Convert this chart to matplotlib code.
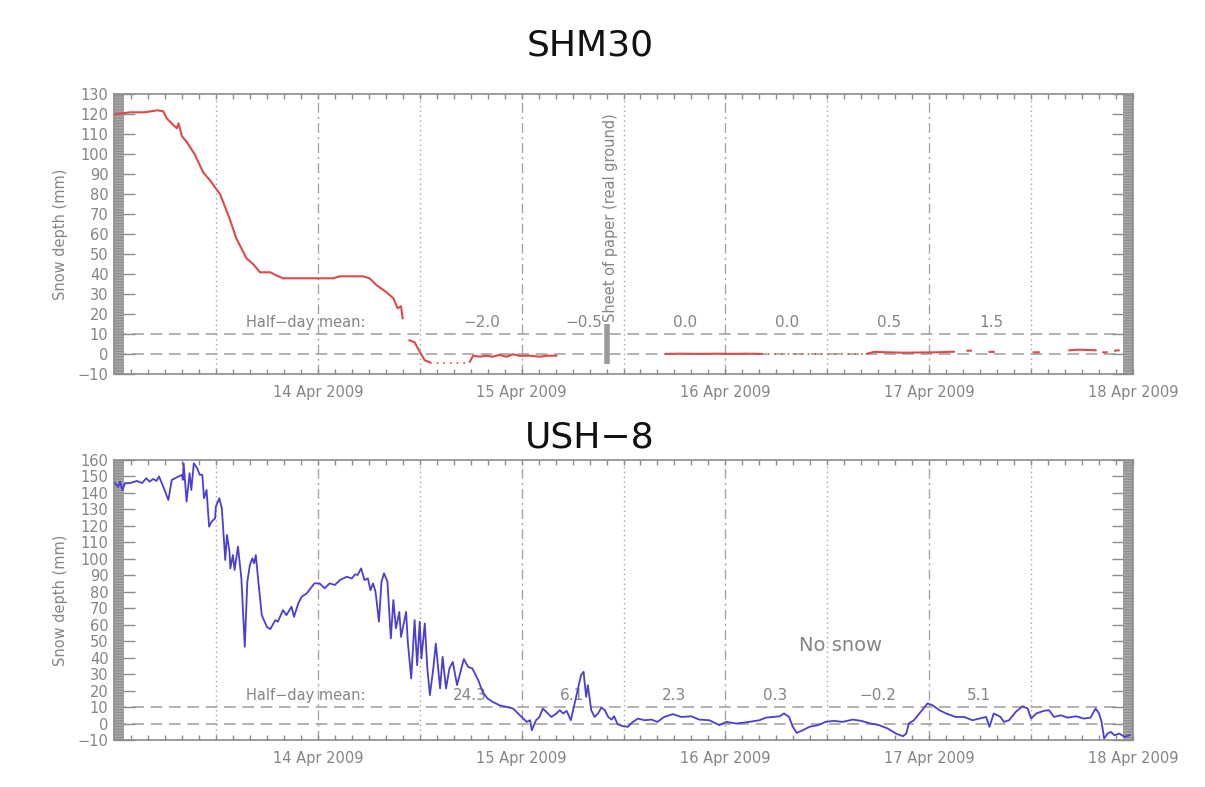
import matplotlib
matplotlib.use("Agg")
import numpy as np
import matplotlib.pyplot as plt
import matplotlib.dates as mdates
from matplotlib.patches import Rectangle
from matplotlib.ticker import FixedLocator, MultipleLocator

plt.rcParams["font.family"] = ["DejaVu Sans"]
plt.rcParams["axes.unicode_minus"] = True

START = np.datetime64("2009-04-13T00:00")

# ---------------- SHM30 (hours since 13 Apr 00:00, snow depth mm) ----------------
shm_hours = [0.1, 1.9, 3.6, 5.1, 5.8, 6.2, 7.0, 7.4, 7.6, 8.0, 8.6, 9.5, 10.5, 11.3,
             12.5, 13.6, 14.4, 15.6, 16.4, 17.2, 18.4, 19.1, 19.9, 21.9, 25.8, 26.6,
             29.3, 30.1, 30.9, 32.1, 32.9, 33.4, 33.8, 34.0,
             34.4,
             34.8, 35.4, 36.0, 36.6, 37.2,
             39.0,
             41.9, 42.3, 43.1, 43.8, 44.6, 45.4, 46.2, 47.0, 47.8, 48.9, 50.1, 51.1, 52.1,
             55.0,
             65.0, 67.0, 69.0, 71.0, 73.0, 74.5, 76.2,
             80.0,
             88.7, 89.5, 91.0, 93.0, 95.0, 97.0, 98.9,
             99.5,
             100.5, 100.9,
             101.5,
             103.1, 103.6,
             104.0,
             108.3, 108.9,
             110.0,
             112.5, 113.5, 114.5, 115.6,
             116.2,
             116.5, 116.9,
             117.5,
             117.9, 118.3]
shm_depth = [120, 121, 121, 122, 121.5, 118, 114.6, 113, 115.5, 109, 106, 100, 91, 87,
             80, 68, 58, 48, 45, 41, 41, 39.5, 38, 38, 38, 39,
             39, 38, 34.6, 31, 28, 23, 24, 18,
             np.nan,
             7, 6, 1.3, -3, -4,
             np.nan,
             -3.7, -0.7, -1.2, -0.7, -1.2, -0.3, -1.2, 0.0, -0.8, -0.7, -1.2, -0.7, -0.7,
             np.nan,
             0.2, 0.3, 0.2, 0.3, 0.2, 0.3, 0.2,
             np.nan,
             0.3, 1.2, 1.0, 0.8, 0.9, 1.0, 1.3,
             np.nan,
             1.8, 1.8,
             np.nan,
             1.2, 1.2,
             np.nan,
             1.0, 1.0,
             np.nan,
             2.0, 2.3, 2.2, 2.0,
             np.nan,
             1.0, 1.0,
             np.nan,
             1.8, 2.0]
# sparse readings drawn dotted
shm_sparse_hours = [37.2, 41.9, np.nan, 76.2, 88.7]
shm_sparse_depth = [-4.3, -4.3, np.nan, 0.3, 0.3]
shm_means = ["\u22122.0", "\u22120.5", "0.0", "0.0", "0.5", "1.5"]

# ---------------- USH-8 ----------------
ush_hours = [0.1, 0.5, 0.7, 1.0, 1.3, 1.9, 2.7, 3.3, 3.8, 4.2, 4.6, 5.0, 5.3, 5.8, 6.4,
             6.8, 7.6, 8.0, 8.1, 8.2, 8.55, 8.9, 9.1, 9.4, 9.8, 10.1, 10.4, 10.6, 10.9, 11.2,
             11.5, 11.9, 12.0, 12.4, 12.7, 13.1, 13.3, 13.6, 13.7, 14.0, 14.2, 14.6, 15.0,
             15.4, 15.7, 16.0, 16.3, 16.5, 16.7, 17.0, 17.4, 18.0, 18.4, 19.0, 19.3, 19.9,
             20.3, 20.9, 21.2, 21.7, 22.1, 22.7, 23.3, 23.6, 24.2,
             24.8, 25.4, 26.0, 26.6, 27.4, 28.0, 28.4, 28.7, 29.1, 29.5, 29.9, 30.2, 30.5,
             30.8, 31.2, 31.5, 31.8, 32.2, 32.6, 32.9, 33.2, 33.6, 33.8, 34.4, 34.6, 35.0,
             35.4, 35.7, 36.0, 36.2, 36.6, 36.9, 37.2, 37.6, 37.9, 38.4, 38.7, 39.1, 39.5,
             39.9, 40.4, 40.9, 41.2, 41.7, 42.2, 42.9, 43.4, 44.0, 44.6, 45.4, 46.2, 47.0,
             47.8, 48.6, 49.0, 49.2,
             49.7, 50.1, 50.5, 50.9, 51.5, 52.1, 52.5, 52.9, 53.3, 53.8, 54.2, 54.6, 55.0,
             55.3, 55.6, 55.8, 56.2, 56.6, 57.0, 57.4, 57.8, 58.2, 58.6, 58.9, 59.3, 59.9,
             60.5, 61.1, 61.7, 62.5, 63.3, 64.0, 64.8, 65.8, 66.8, 68.0, 68.9, 70.1, 71.3,
             72.1, 73.3,
             74.8, 76.0, 76.8, 77.6, 78.4, 78.9, 79.5, 79.9, 80.4, 81.1, 81.9, 82.9, 83.8,
             84.8, 85.8, 87.0, 88.0, 89.1, 90.1, 91.1, 92.1, 92.9, 93.3, 93.6, 94.2, 95.0,
             95.8, 96.4, 97.2, 98.0,
             99.1, 100.1, 101.1, 101.9, 102.7, 103.1, 103.6, 104.4, 104.8, 105.4, 106.2,
             107.0, 107.6, 108.0, 108.6, 109.5, 110.1, 110.7, 111.5, 112.3, 113.3, 114.2,
             115.0, 115.6, 116.0, 116.3, 116.6, 117.0, 117.4, 117.8, 118.4, 119.0, 119.6]
ush_depth = [146, 143.8, 146.9, 141.8, 145.9, 146, 147.3, 146, 148.9, 146.9, 148.5, 147.3,
             150, 143.8, 135.7, 147.9, 150, 151, 147.9, 158, 134.7, 152, 141.8, 158, 155,
             151, 151, 136.8, 141.8, 119.5, 122.6, 124.6, 131.7, 136.8, 130.7, 99.3, 114.5,
             104.3, 94.2, 102.3, 93.2, 107.4, 88.1, 46.6, 86.1, 96.2, 100.3, 97.3, 102.3,
             86.1, 65.8, 58.7, 57.3, 62.8, 61.8, 68.9, 65.8, 70.9, 64.8, 72.9, 77, 79, 83,
             85.1, 85.1,
             82.1, 85.1, 84.1, 87.1, 89.1, 88.1, 90.6, 90.2, 94.2, 87.1, 88.1, 81, 85.1, 80,
             61.8, 86.1, 91.2, 86.1, 51.7, 75, 57.8, 67.8, 52.6, 67.8, 49.6, 27.4, 62.8,
             35.4, 61.8, 39.5, 60.8, 33.4, 17.2, 33.4, 48.6, 21.3, 40.5, 21.3, 33.4, 37.4,
             23.3, 33.4, 39.1, 34.4, 33.4, 26.3, 19.2, 15.2, 13.1, 11.1, 10.1, 9.1, 5.0, 1.0,
             2.0, -4.1,
             2.0, 4.0, 9.1, 7.1, 4.0, 6.1, 8.1, 6.1, 7.7, 2.0, 11.1, 20.2, 29.4, 31.4, 16.2,
             23.3, 8.1, 4.0, 6.1, 9.7, 8.1, 4.0, 2.4, 4.4, -0.4, -1.6, -2.0, 1.0, 3.0, 2.0,
             2.4, 1.0, 4.0, 5.7, 4.0, 4.4, 2.4, 2.0, -1.0, 1.0, 0.0,
             1.0, 2.0, 3.6, 4.0, 4.4, 6.1, 4.0, -1.6, -5.7, -4.1, -2.0, -1.0, 1.0, 1.6, 1.0,
             2.4, 1.6, 0.0, -1.0, -3.0, -6.1, -7.7, -6.1, 0.0, 2.0, 7.1, 12.2, 11.1, 8.1, 6.1,
             4.0, 4.0, 2.0, 3.0, 4.0, -2.0, 6.1, 4.0, 1.0, 2.0, 7.1, 10.5, 9.1, 3.0, 6.1,
             7.7, 8.1, 4.0, 5.0, 3.6, 4.4, 3.0, 3.6, 9.1, 6.1, 1.0, -9.1, -6.1, -5.1, -7.1,
             -6.1, -8.1, -7.1]
ush_means = ["24.3", "6.1", "2.3", "0.3", "\u22120.2", "5.1"]

HALF_DAY_STARTS = [36, 48, 60, 72, 84, 96]

GRID = "#a4a4a4"
TEXT = "#858585"
SPINE = "#8c8c8c"
X0 = mdates.date2num(START)


def hx(hours):
    return X0 + np.asarray(hours, dtype=float) / 24.0


fig = plt.figure(figsize=(12.05, 7.87), dpi=100)
W, H = 1205.0, 787.0
ax_top = fig.add_axes([114 / W, 1 - 374.3 / H, 1019 / W, 280 / H])
ax_bot = fig.add_axes([114 / W, 1 - 740 / H, 1019 / W, 280 / H])


def style(ax, ymin, ymax):
    ax.set_xlim(X0, X0 + 5)
    ax.set_ylim(ymin, ymax)
    for s in ax.spines.values():
        s.set_color(SPINE)
        s.set_linewidth(1.2)
    ax.xaxis.set_major_locator(FixedLocator([X0 + d for d in range(1, 6)]))
    ax.xaxis.set_major_formatter(mdates.DateFormatter("%d %b %Y"))
    ax.xaxis.set_minor_locator(FixedLocator([X0 + h / 24 for h in range(2, 120, 2)]))
    ax.tick_params(axis="x", which="both", direction="in", top=True, length=3.6,
                   width=1, color=SPINE, labelcolor=TEXT, labelsize=10.5, pad=8)
    ax.yaxis.set_major_locator(MultipleLocator(10))
    ax.tick_params(axis="y", direction="in", right=True, length=15, width=1,
                   color=SPINE, labelcolor=TEXT, labelsize=10.5, pad=4)
    for d in range(5):
        ax.axvline(X0 + d + 0.5, color=GRID, lw=1, dashes=(1, 2.5), zorder=1)
    for d in range(1, 5):
        ax.axvline(X0 + d, color=GRID, lw=1, dashes=(7, 3, 1.5, 3), zorder=1)
    for yv in (10, 0):
        ax.axhline(yv, color=GRID, lw=1.2, dashes=(7, 4), zorder=1)
    bw = 10 / 1019
    for x in (0, 1 - bw):
        ax.add_patch(Rectangle((x, 0), bw, 1, transform=ax.transAxes,
                               facecolor="#a9a9a9", edgecolor="#909090",
                               hatch="------", lw=0, zorder=2))
    ax.set_ylabel("Snow depth (mm)", color=TEXT, fontsize=10.5)
    ax.yaxis.set_label_coords(-0.045, 0.5)
    ax.annotate("Half\u2212day mean:", xy=(hx(22.6), 10), xytext=(0, 3),
                textcoords="offset points", ha="center", va="bottom",
                color=TEXT, fontsize=10.5, zorder=1.5)


style(ax_top, -10, 130)
style(ax_bot, -10, 160)

# SHM30
for lbl, h0 in zip(shm_means, HALF_DAY_STARTS):
    ax_top.annotate(lbl, xy=(hx(h0 + 7.3), 10), xytext=(0, 3), textcoords="offset points",
                    ha="center", va="bottom", color=TEXT, fontsize=11, zorder=1.5)
ax_top.plot(hx(shm_hours), shm_depth, color="#dd4a4a", lw=1.5, zorder=3)
ax_top.plot(hx(shm_sparse_hours), shm_sparse_depth, color="#dd4a4a", lw=1.2,
            dashes=(1, 3), zorder=3)
ax_top.plot(hx([58.0, 58.0]), [-5, 15], color="#9a9a9a", lw=4, solid_capstyle="butt", zorder=3)
ax_top.text(hx(58.5), 16, "Sheet of paper (real ground)", rotation=90, ha="center",
            va="bottom", color=TEXT, fontsize=10.5)

# USH-8
for lbl, h0 in zip(ush_means, HALF_DAY_STARTS):
    ax_bot.annotate(lbl, xy=(hx(h0 + 5.9), 10), xytext=(0, 3), textcoords="offset points",
                    ha="center", va="bottom", color=TEXT, fontsize=11, zorder=1.5)
ax_bot.plot(hx(ush_hours), ush_depth, color="#4a3fd0", lw=1.3, zorder=3)
ax_bot.text(hx(85.6), 47.5, "No snow", ha="center", va="center", color=TEXT, fontsize=14)

fig.text(590 / W, 1 - 45 / H, "SHM30", ha="center", va="center", fontsize=26, color="#111111")
fig.text(590 / W, 1 - 437 / H, "USH\u22128", ha="center", va="center", fontsize=26, color="#111111")

fig.savefig("out.png", dpi=100, facecolor="white")
